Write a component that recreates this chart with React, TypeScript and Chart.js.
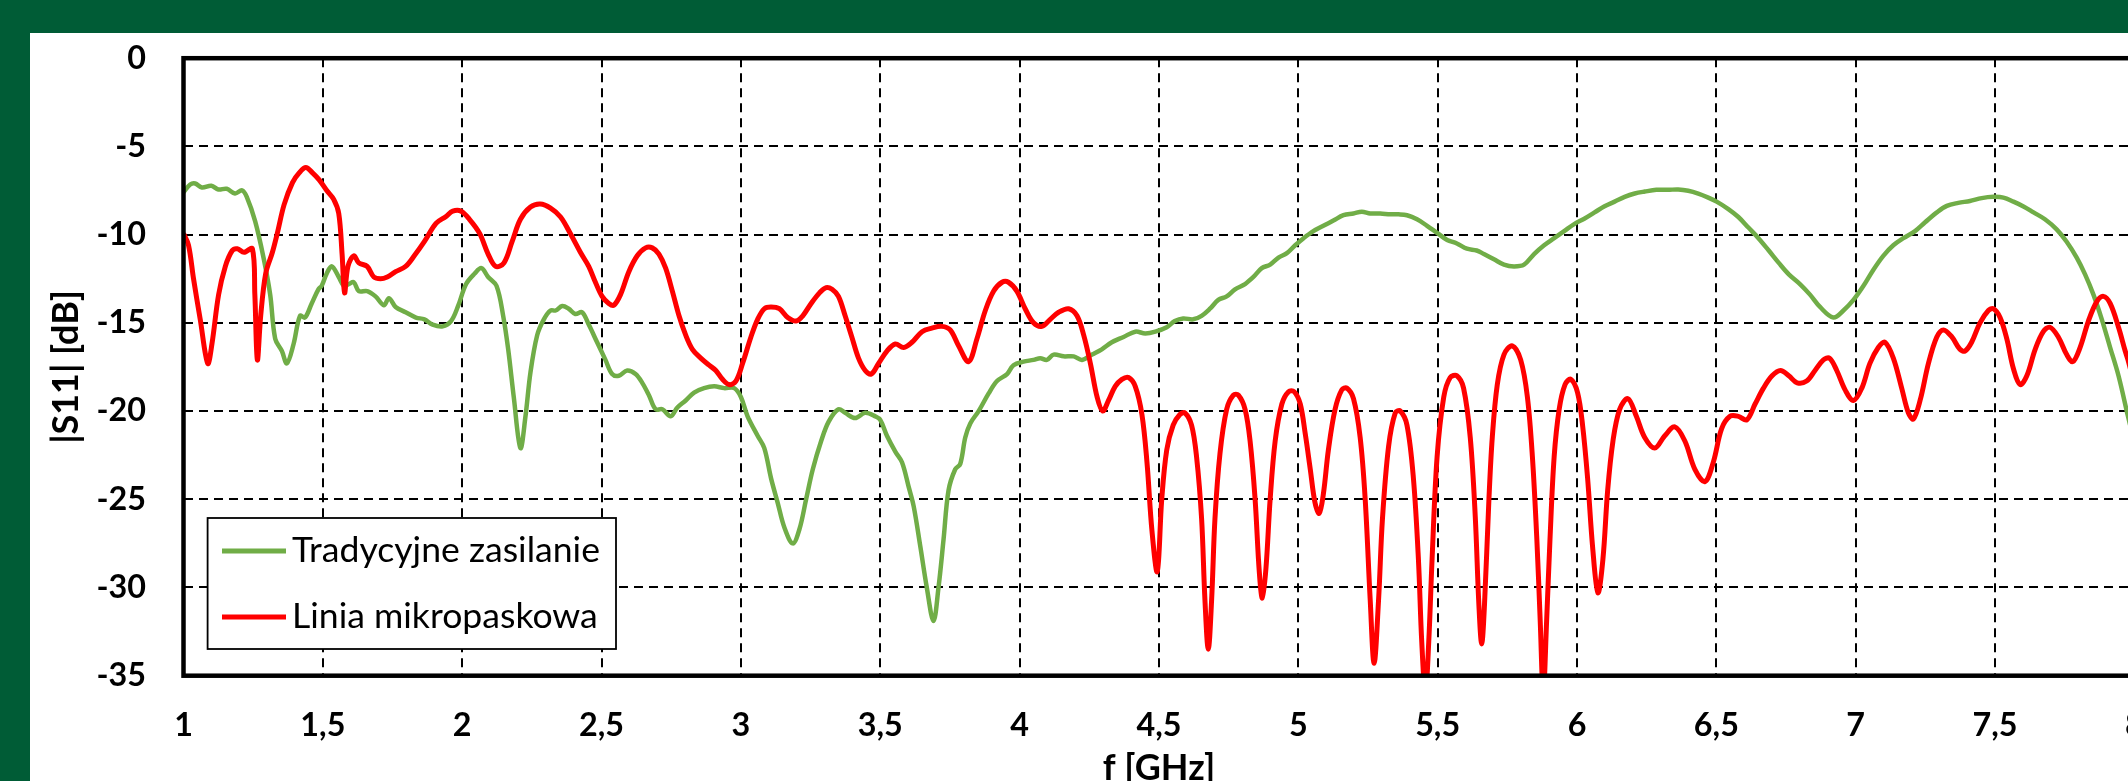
import React, { useEffect, useRef } from 'react';
import { Chart, registerables } from 'chart.js';

Chart.register(...registerables);

// ---------- data ----------
const seriesNames = ['Tradycyjne zasilanie', 'Linia mikropaskowa'];
const seriesColors = ['#70AD47', '#FF0000'];
const xAxisTitle = 'f [GHz]';
const yAxisTitle = '|S11| [dB]';
const xTickValues = [1, 1.5, 2, 2.5, 3, 3.5, 4, 4.5, 5, 5.5, 6, 6.5, 7, 7.5, 8];
const xTickLabels = ['1', '1,5', '2', '2,5', '3', '3,5', '4', '4,5', '5', '5,5', '6', '6,5', '7', '7,5', '8'];
const yTickValues = [0, -5, -10, -15, -20, -25, -30, -35];
const yTickLabels = ['0', '-5', '-10', '-15', '-20', '-25', '-30', '-35'];

const greenFreq = [
  1.0, 1.024, 1.042, 1.066, 1.1, 1.125, 1.155, 1.185, 1.21, 1.227, 1.257, 1.287, 1.311, 1.329, 1.353, 1.371,
  1.395, 1.418, 1.436, 1.46, 1.484, 1.496, 1.514, 1.532, 1.557, 1.575, 1.593, 1.611, 1.629, 1.659, 1.689, 1.719,
  1.737, 1.761, 1.797, 1.834, 1.864, 1.894, 1.93, 1.96, 1.984, 2.014, 2.045, 2.069, 2.093, 2.123, 2.147, 2.165,
  2.185, 2.209, 2.227, 2.245, 2.269, 2.293, 2.317, 2.335, 2.359, 2.382, 2.406, 2.43, 2.454, 2.484, 2.514, 2.538,
  2.562, 2.592, 2.622, 2.646, 2.67, 2.694, 2.718, 2.748, 2.772, 2.802, 2.832, 2.868, 2.904, 2.94, 2.976, 3.0,
  3.024, 3.06, 3.084, 3.108, 3.132, 3.156, 3.186, 3.21, 3.234, 3.258, 3.288, 3.315, 3.35, 3.374, 3.41, 3.446,
  3.482, 3.5, 3.524, 3.554, 3.578, 3.602, 3.62, 3.644, 3.667, 3.691, 3.709, 3.727, 3.745, 3.769, 3.787, 3.805,
  3.823, 3.853, 3.889, 3.919, 3.955, 3.978, 4.014, 4.05, 4.074, 4.098, 4.122, 4.158, 4.194, 4.224, 4.26, 4.295,
  4.331, 4.373, 4.415, 4.451, 4.487, 4.528, 4.557, 4.587, 4.623, 4.653, 4.683, 4.713, 4.743, 4.773, 4.809, 4.839,
  4.869, 4.899, 4.929, 4.959, 4.989, 5.019, 5.054, 5.09, 5.126, 5.162, 5.198, 5.228, 5.258, 5.294, 5.33, 5.36,
  5.39, 5.426, 5.462, 5.498, 5.534, 5.569, 5.605, 5.64, 5.666, 5.702, 5.738, 5.774, 5.81, 5.846, 5.882, 5.918,
  5.954, 5.99, 6.026, 6.063, 6.099, 6.135, 6.171, 6.207, 6.243, 6.285, 6.327, 6.363, 6.399, 6.435, 6.471, 6.501,
  6.543, 6.579, 6.615, 6.651, 6.688, 6.724, 6.76, 6.8, 6.836, 6.872, 6.92, 6.956, 6.992, 7.028, 7.063, 7.099,
  7.135, 7.171, 7.213, 7.249, 7.291, 7.327, 7.368, 7.41, 7.452, 7.494, 7.53, 7.566, 7.602, 7.638, 7.679, 7.721,
  7.757, 7.793, 7.823, 7.853, 7.883, 7.913, 7.943, 7.977, 8.0,
];
const greenDb = [
  -7.6, -7.16, -7.1, -7.33, -7.23, -7.44, -7.4, -7.67, -7.49, -7.86, -9.24, -11.3, -13.4, -15.9, -16.6, -17.3,
  -16.2, -14.6, -14.7, -13.9, -13.1, -12.9, -12.2, -11.8, -12.4, -12.9, -12.8, -12.7, -13.2, -13.2, -13.5, -14.0,
  -13.6, -14.1, -14.4, -14.7, -14.8, -15.1, -15.2, -14.9, -14.1, -12.8, -12.2, -11.9, -12.4, -12.9, -14.6, -16.5,
  -19.2, -22.1, -20.3, -17.8, -15.7, -14.8, -14.3, -14.3, -14.05, -14.2, -14.5, -14.4, -15.1, -16.1, -17.1, -17.9,
  -18.0, -17.7, -17.9, -18.4, -19.1, -19.9, -19.9, -20.3, -19.8, -19.4, -18.95, -18.7, -18.6, -18.7, -18.7, -19.2,
  -20.3, -21.4, -22.1, -23.8, -25.2, -26.6, -27.5, -26.7, -25.0, -23.3, -21.7, -20.6, -19.9, -20.1, -20.4, -20.1,
  -20.3, -20.5, -21.4, -22.3, -22.9, -24.3, -25.4, -27.7, -30.0, -31.9, -30.0, -27.3, -24.5, -23.3, -23.0, -21.5,
  -20.7, -20.0, -19.0, -18.3, -17.9, -17.4, -17.2, -17.1, -17.0, -17.1, -16.8, -16.9, -16.9, -17.1, -16.8, -16.5,
  -16.1, -15.8, -15.5, -15.6, -15.5, -15.25, -14.9, -14.75, -14.8, -14.6, -14.2, -13.7, -13.5, -13.1, -12.8, -12.4,
  -11.9, -11.7, -11.3, -11.05, -10.6, -10.2, -9.8, -9.5, -9.2, -8.9, -8.8, -8.7, -8.8, -8.8, -8.85, -8.85,
  -8.9, -9.13, -9.5, -9.9, -10.3, -10.5, -10.8, -10.9, -11.1, -11.4, -11.7, -11.8, -11.7, -11.1, -10.6, -10.2,
  -9.8, -9.4, -9.1, -8.74, -8.39, -8.13, -7.86, -7.67, -7.56, -7.46, -7.46, -7.44, -7.51, -7.67, -7.9, -8.13,
  -8.55, -9.0, -9.6, -10.2, -10.9, -11.6, -12.25, -12.8, -13.4, -14.1, -14.7, -14.3, -13.7, -12.9, -12.0, -11.2,
  -10.6, -10.2, -9.8, -9.3, -8.74, -8.37, -8.2, -8.09, -7.93, -7.86, -7.9, -8.13, -8.4, -8.74, -9.13, -9.7,
  -10.4, -11.3, -12.25, -13.4, -14.8, -16.4, -18.0, -20.3, -21.8,
];

const redFreq = [
  1.0, 1.018, 1.036, 1.06, 1.087, 1.102, 1.126, 1.15, 1.175, 1.193, 1.217, 1.247, 1.256, 1.265, 1.277, 1.295,
  1.319, 1.337, 1.361, 1.391, 1.415, 1.439, 1.463, 1.487, 1.514, 1.539, 1.557, 1.569, 1.578, 1.59, 1.611, 1.629,
  1.659, 1.683, 1.707, 1.731, 1.761, 1.797, 1.828, 1.864, 1.906, 1.942, 1.966, 1.996, 2.026, 2.063, 2.093, 2.12,
  2.15, 2.179, 2.209, 2.245, 2.28, 2.317, 2.353, 2.388, 2.424, 2.454, 2.478, 2.502, 2.526, 2.544, 2.568, 2.598,
  2.628, 2.658, 2.682, 2.706, 2.73, 2.754, 2.778, 2.802, 2.826, 2.856, 2.886, 2.91, 2.934, 2.958, 2.982, 3.006,
  3.036, 3.06, 3.084, 3.108, 3.138, 3.168, 3.198, 3.222, 3.252, 3.282, 3.306, 3.327, 3.35, 3.374, 3.398, 3.422,
  3.446, 3.468, 3.494, 3.524, 3.554, 3.584, 3.614, 3.65, 3.685, 3.721, 3.751, 3.781, 3.817, 3.847, 3.877, 3.907,
  3.937, 3.96, 3.99, 4.02, 4.05, 4.08, 4.11, 4.14, 4.176, 4.206, 4.23, 4.254, 4.278, 4.298, 4.319, 4.343,
  4.367, 4.391, 4.415, 4.439, 4.457, 4.475, 4.494, 4.51, 4.528, 4.551, 4.575, 4.593, 4.617, 4.635, 4.653, 4.665,
  4.677, 4.689, 4.701, 4.719, 4.743, 4.767, 4.785, 4.809, 4.827, 4.845, 4.86, 4.871, 4.884, 4.899, 4.917, 4.941,
  4.965, 4.985, 5.007, 5.025, 5.043, 5.06, 5.075, 5.09, 5.108, 5.132, 5.156, 5.174, 5.198, 5.222, 5.24, 5.258,
  5.272, 5.288, 5.302, 5.324, 5.348, 5.366, 5.39, 5.413, 5.431, 5.443, 5.456, 5.468, 5.48, 5.498, 5.522, 5.545,
  5.569, 5.593, 5.617, 5.635, 5.648, 5.658, 5.668, 5.684, 5.696, 5.714, 5.738, 5.768, 5.798, 5.822, 5.84, 5.856,
  5.868, 5.879, 5.891, 5.903, 5.918, 5.936, 5.957, 5.978, 6.002, 6.02, 6.038, 6.056, 6.075, 6.093, 6.11, 6.129,
  6.153, 6.183, 6.213, 6.243, 6.279, 6.315, 6.351, 6.387, 6.423, 6.459, 6.489, 6.519, 6.549, 6.579, 6.609, 6.639,
  6.669, 6.7, 6.73, 6.76, 6.79, 6.824, 6.854, 6.884, 6.906, 6.932, 6.962, 6.992, 7.022, 7.051, 7.081, 7.105,
  7.135, 7.165, 7.189, 7.207, 7.231, 7.261, 7.291, 7.315, 7.345, 7.374, 7.392, 7.416, 7.446, 7.476, 7.494, 7.518,
  7.542, 7.566, 7.59, 7.614, 7.644, 7.673, 7.697, 7.727, 7.757, 7.779, 7.805, 7.835, 7.865, 7.889, 7.913, 7.943,
  7.967, 7.977, 8.0,
];
const redDb = [
  -9.94, -10.6, -12.5, -14.8, -17.3, -16.2, -13.4, -11.8, -10.9, -10.8, -11.0, -10.8, -13.4, -17.1, -14.6, -12.2,
  -11.0, -9.9, -8.3, -7.05, -6.5, -6.2, -6.5, -6.9, -7.5, -8.0, -8.8, -11.1, -13.3, -11.8, -11.2, -11.6,
  -11.8, -12.4, -12.5, -12.4, -12.1, -11.8, -11.2, -10.4, -9.36, -8.97, -8.67, -8.67, -9.13, -9.94, -11.1, -11.8,
  -11.6, -10.4, -9.13, -8.44, -8.27, -8.5, -9.0, -9.94, -11.0, -11.8, -12.7, -13.5, -13.9, -14.0, -13.4, -12.1,
  -11.2, -10.75, -10.75, -11.1, -11.9, -13.2, -14.6, -15.7, -16.5, -17.0, -17.4, -17.7, -18.2, -18.5, -18.3, -17.3,
  -15.8, -14.8, -14.2, -14.1, -14.2, -14.7, -14.9, -14.6, -13.9, -13.3, -13.0, -13.1, -13.5, -14.6, -15.8, -17.0,
  -17.7, -17.9, -17.3, -16.6, -16.2, -16.4, -16.1, -15.5, -15.3, -15.2, -15.4, -16.3, -17.2, -15.9, -14.3, -13.2,
  -12.7, -12.7, -13.2, -14.2, -15.0, -15.2, -14.8, -14.4, -14.2, -14.6, -15.7, -17.3, -19.2, -20.0, -19.4, -18.6,
  -18.2, -18.1, -18.6, -20.2, -22.9, -26.8, -29.1, -25.0, -22.2, -20.8, -20.2, -20.1, -20.8, -22.6, -26.1, -30.7,
  -33.5, -30.7, -26.1, -22.4, -19.9, -19.1, -19.1, -19.9, -21.7, -25.0, -29.1, -30.6, -28.9, -25.0, -21.7, -19.6,
  -18.9, -18.9, -19.6, -21.3, -23.3, -25.2, -25.8, -24.7, -22.2, -19.9, -18.8, -18.7, -19.3, -21.5, -25.0, -30.7,
  -34.3, -30.7, -26.1, -22.0, -20.1, -20.0, -20.8, -23.8, -28.4, -33.1, -36.0, -33.1, -28.4, -22.6, -19.2, -18.1,
  -18.0, -18.7, -21.5, -26.0, -31.0, -33.2, -31.0, -25.0, -21.5, -18.5, -16.8, -16.3, -17.1, -19.2, -22.6, -27.3,
  -31.9, -36.0, -31.9, -27.3, -22.6, -19.9, -18.5, -18.2, -18.95, -20.8, -23.8, -27.7, -30.3, -28.4, -24.5, -21.7,
  -19.9, -19.3, -20.3, -21.5, -22.1, -21.4, -20.9, -21.7, -23.3, -24.0, -22.9, -21.0, -20.3, -20.3, -20.5, -19.6,
  -18.7, -18.0, -17.7, -18.0, -18.4, -18.3, -17.7, -17.1, -17.0, -17.7, -18.8, -19.4, -18.7, -17.3, -16.4, -16.1,
  -17.0, -18.7, -20.1, -20.45, -19.4, -17.3, -15.8, -15.4, -15.8, -16.5, -16.6, -16.1, -15.0, -14.3, -14.2, -14.7,
  -15.9, -17.6, -18.5, -18.0, -16.5, -15.5, -15.25, -15.8, -16.8, -17.2, -16.4, -14.9, -13.8, -13.5, -13.9, -15.25,
  -16.6, -17.1, -18.5,
];

// ---------- layout constants (canvas px; canvas sits at page x=30, y=33) ----------
const CANVAS_W = 2200;
const CANVAS_H = 770;
const PLOT_LEFT = 153.5;
const PLOT_TOP = 25.2;
const PLOT_BOTTOM = 642.7;
const PLOT_RIGHT = 2104.4;
const FONT = 'Lato, "Open Sans", sans-serif';

const zip = (xs: number[], ys: number[]) => xs.map((x, i) => ({ x, y: ys[i] }));

function fitSize(text: string, target: number, weight: string) {
  const c = document.createElement('canvas').getContext('2d');
  if (!c) return 32;
  c.font = `${weight} 100px ${FONT}`;
  const w = c.measureText(text).width;
  return w > 0 ? (100 * target) / w : 32;
}

const framePlugin = {
  id: 'plotFrame',
  afterDatasetsDraw(chart: any) {
    const { ctx, chartArea } = chart;
    ctx.save();
    ctx.strokeStyle = '#000';
    ctx.lineWidth = 4.5;
    ctx.strokeRect(chartArea.left, chartArea.top, chartArea.right - chartArea.left, chartArea.bottom - chartArea.top);
    ctx.restore();
  },
};

const makeLegendPlugin = (fontSize: number) => ({
  id: 'boxLegend',
  afterDraw(chart: any) {
    const { ctx, chartArea } = chart;
    const x0 = chartArea.left + 24.1;
    const y0 = chartArea.top + 459.8;
    const w = 408.4;
    const h = 131;
    ctx.save();
    ctx.fillStyle = '#ffffff';
    ctx.fillRect(x0, y0, w, h);
    ctx.strokeStyle = '#000';
    ctx.lineWidth = 1.8;
    ctx.strokeRect(x0, y0, w, h);
    const rows = [33, 99];
    seriesNames.forEach((name, i) => {
      const cy = y0 + rows[i];
      ctx.strokeStyle = seriesColors[i];
      ctx.lineWidth = 5;
      ctx.beginPath();
      ctx.moveTo(x0 + 14.4, cy);
      ctx.lineTo(x0 + 78.4, cy);
      ctx.stroke();
      ctx.fillStyle = '#000';
      ctx.font = `${fontSize}px ${FONT}`;
      ctx.textBaseline = 'middle';
      ctx.textAlign = 'left';
      ctx.fillText(name, x0 + 84.4, cy);
    });
    ctx.restore();
  },
});

export default function App() {
  const canvasRef = useRef<HTMLCanvasElement | null>(null);

  useEffect(() => {
    let chart: Chart | null = null;
    let cancelled = false;
    const build = () => {
      if (cancelled || !canvasRef.current) return;
      const tickSize = (fitSize('-35', 48.5, 'bold') + fitSize('2,5', 46, 'bold')) / 2;
      const titleSize = (fitSize(yAxisTitle, 160, 'bold') + fitSize(xAxisTitle, 108, 'bold')) / 2;
      const legendSize = fitSize(seriesNames[0], 308, 'normal');
      const xTickPad = 693 - PLOT_BOTTOM - 0.6 * tickSize;
      const yTitlePad = 36 - 0.6 * titleSize;
      const xTitlePad = Math.max(0, CANVAS_H - 0.6 * titleSize - 735);

      chart = new Chart(canvasRef.current, {
        type: 'line',
        data: {
          datasets: [
            {
              label: seriesNames[1],
              data: zip(redFreq, redDb),
              borderColor: seriesColors[1],
              backgroundColor: seriesColors[1],
              borderWidth: 5,
              pointRadius: 0,
              tension: 0.35,
              fill: false,
              order: 0,
            },
            {
              label: seriesNames[0],
              data: zip(greenFreq, greenDb),
              borderColor: seriesColors[0],
              backgroundColor: seriesColors[0],
              borderWidth: 4.5,
              pointRadius: 0,
              tension: 0.35,
              fill: false,
              order: 1,
            },
          ],
        },
        options: {
          responsive: false,
          animation: false,
          devicePixelRatio: 1,
          layout: { padding: { top: PLOT_TOP, right: CANVAS_W - PLOT_RIGHT, left: 0, bottom: 0 } },
          plugins: {
            legend: { display: false },
            tooltip: { enabled: false },
            title: { display: false },
          },
          scales: {
            x: {
              type: 'linear',
              min: 1,
              max: 8,
              afterBuildTicks: (scale: any) => {
                scale.ticks = xTickValues.map((v) => ({ value: v }));
              },
              afterFit: (scale: any) => {
                scale.height = CANVAS_H - PLOT_BOTTOM;
                scale.paddingLeft = 0;
                scale.paddingRight = 0;
                scale.paddingTop = 0;
                scale.paddingBottom = 0;
              },
              grid: { color: '#000', lineWidth: 2, drawTicks: false },
              border: { display: false, dash: [9, 6] },
              ticks: {
                padding: xTickPad,
                color: '#000',
                font: { family: FONT, size: tickSize, weight: 'bold' },
                maxRotation: 0,
                autoSkip: false,
                callback: (v: any) => {
                  const i = xTickValues.indexOf(Number(v));
                  return i >= 0 ? xTickLabels[i] : '';
                },
              },
              title: {
                display: true,
                text: xAxisTitle,
                color: '#000',
                font: { family: FONT, size: titleSize, weight: 'bold' },
                padding: { top: 0, bottom: xTitlePad },
              },
            },
            y: {
              type: 'linear',
              min: -35,
              max: 0,
              afterBuildTicks: (scale: any) => {
                scale.ticks = yTickValues.slice().reverse().map((v) => ({ value: v }));
              },
              afterFit: (scale: any) => {
                scale.width = PLOT_LEFT;
                scale.paddingLeft = 0;
                scale.paddingRight = 0;
                scale.paddingTop = 0;
                scale.paddingBottom = 0;
              },
              grid: { color: '#000', lineWidth: 2, drawTicks: false },
              border: { display: false, dash: [9, 6] },
              ticks: {
                padding: 37.5,
                color: '#000',
                font: { family: FONT, size: tickSize, weight: 'bold' },
                autoSkip: false,
                callback: (v: any) => {
                  const i = yTickValues.indexOf(Number(v));
                  return i >= 0 ? yTickLabels[i] : '';
                },
              },
              title: {
                display: true,
                text: yAxisTitle,
                color: '#000',
                font: { family: FONT, size: titleSize, weight: 'bold' },
                padding: { top: yTitlePad, bottom: 0 },
              },
            },
          },
        },
        plugins: [framePlugin, makeLegendPlugin(legendSize)],
      } as any);
    };
    const fonts = (document as any).fonts;
    const fontsReady = fonts
      ? Promise.all([fonts.load('bold 32px Lato'), fonts.load('32px Lato')]).catch(() => null)
      : Promise.resolve(null);
    fontsReady.then(build);
    return () => {
      cancelled = true;
      if (chart) chart.destroy();
    };
  }, []);

  return (
    <div
      style={{
        position: 'fixed',
        left: 0,
        top: 0,
        width: 2128,
        height: 781,
        overflow: 'hidden',
        background: '#005C36',
      }}
    >
      <div style={{ position: 'absolute', left: 30, top: 33, right: 0, bottom: 0, background: '#ffffff' }} />
      <canvas
        ref={canvasRef}
        width={CANVAS_W}
        height={CANVAS_H}
        style={{ position: 'absolute', left: 30, top: 33, width: CANVAS_W, height: CANVAS_H }}
      />
    </div>
  );
}
